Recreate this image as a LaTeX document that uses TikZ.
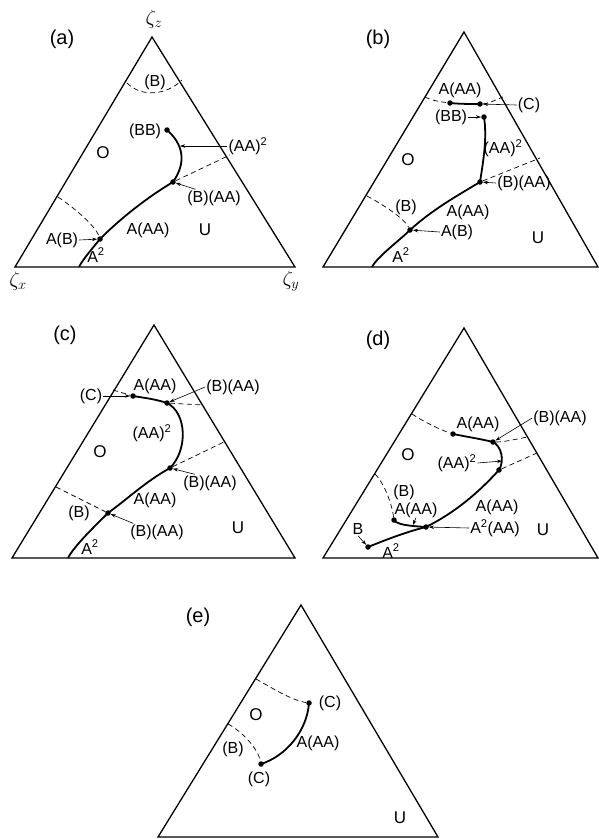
\documentclass[tikz,border=0pt]{standalone}
\usepackage{fontspec}
\setmainfont{Liberation Sans}
\usetikzlibrary{arrows.meta}
\newcommand{\sqr}{\textsuperscript{2}}
\begin{document}
\begin{tikzpicture}[x=1pt,y=-1pt,
  tri/.style={line width=1.3pt, line join=miter},
  phase/.style={line width=1.8pt},
  dsh/.style={line width=0.7pt, dash pattern=on 5pt off 3.5pt},
  dot/.style={circle, fill=black, inner sep=0pt, minimum size=5.5pt},
  lbl/.style={font=\fontsize{16}{18}\selectfont, inner sep=1pt},
  reg/.style={font=\fontsize{17}{19}\selectfont, inner sep=0pt},
  ptag/.style={font=\fontsize{20}{22}\selectfont, inner sep=0pt},
  zet/.style={font=\fontsize{20}{22}\selectfont, inner sep=0pt},
  arr/.style={-{Stealth[length=5pt,width=3.5pt]}, line width=0.6pt},
]
\useasboundingbox (0,0) rectangle (599,839);

% ================= panel (a)
\coordinate (aT) at (152,37); \coordinate (aL) at (15,267); \coordinate (aR) at (295,267);
\draw[tri] (aT) -- (aL) -- (aR) -- cycle;
\node[ptag] (alab) at (62,39) {(a)};
\node[zet] (zz) at (154,19) {$\zeta_z$};
\node[zet] (zx) at (18,281) {$\zeta_x$};
\node[zet] (zy) at (291,281) {$\zeta_y$};
\coordinate (aB1) at (127,83); \coordinate (aB2) at (182,80);
\draw[dsh] (aB1) .. controls +(15,15) and +(-15,15) .. (aB2);
\node[dot] (abb) at (167,130) {};
\node[dot] (abaa) at (173,182) {};
\node[dot] (aab) at (100,239) {};
\coordinate (abot) at (79,267);
\coordinate (aR1) at (230,155);
\coordinate (aL1) at (58,197);
\draw[phase] (abb.center) .. controls +(16,14) and +(14,-20) .. (abaa.center)
  .. controls +(-25,15) and +(22,-22) .. (aab.center)
  .. controls +(-8,10) and +(4,-8) .. (abot);
\draw[dsh] (abaa) -- (aR1);
\draw[dsh] (aL1) .. controls +(15,10) and +(-5,-14) .. (aab);
\node[lbl] (aBt) at (155,82) {(B)};
\node[lbl] (aBB) at (145,131) {(BB)};
\node[lbl] (aAA2) at (248,146) {(AA)\sqr};
\coordinate (aq) at (180,146);
\draw[arr] (aAA2.west) -- (aq);
\node[lbl] (aBAAl) at (214,198) {(B)(AA)};
\draw[arr] (aBAAl.155) -- (abaa);
\node[lbl] (aAAA) at (148,230) {A(AA)};
\node[lbl] (aABl) at (62,240) {A(B)};
\draw[arr] (aABl.east) -- (aab);
\node[lbl] (aA2) at (96,255) {A\sqr};
\node[reg] (aO) at (103,153) {O};
\node[reg] (aU) at (205,230) {U};

% ================= panel (b)
\coordinate (bT) at (464,32); \coordinate (bL) at (323,267); \coordinate (bR) at (598,267);
\draw[tri] (bT) -- (bL) -- (bR) -- cycle;
\node[ptag] (blab) at (378,39) {(b)};
\coordinate (bL1) at (425,97); \coordinate (bR1) at (503,97);
\node[dot] (bd1) at (450,103) {};
\node[dot] (bd2) at (480,104) {};
\draw[dsh] (bL1) .. controls +(8,4) and +(-8,-1) .. (bd1);
\draw[phase] (bd1.center) .. controls +(10,1) and +(-10,0) .. (bd2.center);
\draw[dsh] (bd2) .. controls +(8,0) and +(-8,3) .. (bR1);
\node[lbl] (bC) at (529,105) {(C)};
\draw[arr] (bC.west) -- (bd2);
\node[lbl] (bAAAt) at (460,90) {A(AA)};
\node[dot] (bbb) at (484,117) {};
\node[lbl] (bBB) at (451,117) {(BB)};
\draw[arr] (bBB.east) -- (bbb);
\node[dot] (bbaa) at (480,182) {};
\node[dot] (bab) at (410,230) {};
\coordinate (bbot) at (372,267);
\coordinate (bR2) at (540,158);
\coordinate (bL2) at (367,196);
\draw[phase] (bbb.center) .. controls +(3,20) and +(4,-25) .. (bbaa.center)
  .. controls +(-25,15) and +(22,-20) .. (bab.center)
  .. controls +(-10,10) and +(5,-10) .. (bbot);
\draw[dsh] (bbaa) -- (bR2);
\draw[dsh] (bL2) .. controls +(15,8) and +(-6,-12) .. (bab);
\node[lbl] (bAA2) at (503,148) {(AA)\sqr};
\node[lbl] (bBAAl) at (524,183) {(B)(AA)};
\draw[arr] (bBAAl.west) -- (bbaa);
\node[lbl] (bBl) at (406,207) {(B)};
\node[lbl] (bAAA) at (468,212) {A(AA)};
\node[lbl] (bABl) at (457,232) {A(B)};
\draw[arr] (bABl.west) -- (bab);
\node[lbl] (bA2) at (401,255) {A\sqr};
\node[reg] (bO) at (408,160) {O};
\node[reg] (bU) at (538,238) {U};

% ================= panel (c)
\coordinate (cT) at (154,325); \coordinate (cL) at (12,558); \coordinate (cR) at (295,558);
\draw[tri] (cT) -- (cL) -- (cR) -- cycle;
\node[ptag] (clab) at (65,335) {(c)};
\coordinate (cL1) at (113,390); \coordinate (cR1) at (203,405);
\node[dot] (cc) at (133,396) {};
\node[dot] (cbaa1) at (167,403) {};
\draw[dsh] (cL1) -- (cc);
\draw[phase] (cc.center) .. controls +(12,2) and +(-12,-4) .. (cbaa1.center);
\draw[dsh] (cbaa1) -- (cR1);
\node[lbl] (cCl) at (91,396) {(C)};
\draw[arr] (cCl.east) -- (cc);
\node[lbl] (cAAAt) at (155,386) {A(AA)};
\node[lbl] (cBAAt) at (233,387) {(B)(AA)};
\draw[arr] (cBAAt.west) -- (cbaa1);
\node[dot] (cbaa2) at (170,468) {};
\node[dot] (cbab) at (108,513) {};
\coordinate (cbot) at (68,558);
\coordinate (cR2) at (224,442);
\coordinate (cL2) at (56,487);
\draw[phase] (cbaa1.center) .. controls +(20,10) and +(18,-18) .. (cbaa2.center)
  .. controls +(-25,14) and +(22,-16) .. (cbab.center)
  .. controls +(-12,12) and +(6,-12) .. (cbot);
\draw[dsh] (cbaa2) -- (cR2);
\draw[dsh] (cL2) -- (cbab);
\node[lbl] (cAA2) at (152,433) {(AA)\sqr};
\node[lbl] (cBAAm) at (210,483) {(B)(AA)};
\draw[arr] (cBAAm.150) -- (cbaa2);
\node[lbl] (cAAA) at (155,500) {A(AA)};
\node[lbl] (cBl) at (79,513) {(B)};
\node[lbl] (cBAAb) at (157,532) {(B)(AA)};
\draw[arr] (cBAAb.160) -- (cbab);
\node[lbl] (cA2) at (90,547) {A\sqr};
\node[reg] (cO) at (100,452) {O};
\node[reg] (cU) at (238,528) {U};

% ================= panel (d)
\coordinate (dT) at (464,328); \coordinate (dL) at (323,558); \coordinate (dR) at (598,558);
\draw[tri] (dT) -- (dL) -- (dR) -- cycle;
\node[ptag] (dlab) at (378,340) {(d)};
\coordinate (dL1) at (412,414); \coordinate (dR1) at (528,437);
\node[dot] (dd1) at (453,434) {};
\node[dot] (dd2) at (493,442) {};
\draw[dsh] (dL1) .. controls +(12,8) and +(-12,-4) .. (dd1);
\draw[phase] (dd1.center) .. controls +(15,3) and +(-12,-3) .. (dd2.center);
\draw[dsh] (dd2) .. controls +(12,0) and +(-12,2) .. (dR1);
\node[lbl] (dAAAt) at (478,424) {A(AA)};
\node[lbl] (dBAAt) at (560,418) {(B)(AA)};
\draw[arr] (dBAAt.west) -- (dd2);
\node[dot] (dd3) at (499,470) {};
\node[dot] (dd4) at (426,527) {};
\node[dot] (dd5) at (368,547) {};
\node[dot] (dd6) at (394,520) {};
\coordinate (dR2) at (537,453);
\coordinate (dL2) at (375,474);
\draw[phase] (dd2.center) .. controls +(8,4) and +(6,-10) .. (dd3.center)
  .. controls +(-20,22) and +(30,-15) .. (dd4.center)
  .. controls +(-20,5) and +(20,-8) .. (dd5.center);
\draw[phase] (dd6.center) .. controls +(3,5) and +(-15,-1) .. (dd4.center);
\draw[dsh] (dd3) -- (dR2);
\draw[dsh] (dL2) .. controls +(10,10) and +(-2,-15) .. (dd6);
\node[lbl] (dAA2) at (457,463) {(AA)\sqr};
\coordinate (dq) at (502,461);
\draw[arr] (dAA2.east) -- (dq);
\node[lbl, inner sep=0pt] (dBl) at (404,492) {(B)};
\node[lbl, inner sep=0pt] (dAAAs) at (416,510) {A(AA)};
\coordinate (dq2) at (413,525);
\draw[arr] (dAAAs.south) -- (dq2);
\node[lbl] (dAAA) at (497,507) {A(AA)};
\node[lbl] (dA2AA) at (495,528) {A\sqr(AA)};
\draw[arr] (dA2AA.west) -- (dd4);
\node[lbl] (dBs) at (358,529) {B};
\draw[arr] (dBs.south) -- (dd5);
\node[lbl] (dA2) at (391,551) {A\sqr};
\node[reg] (dO) at (408,455) {O};
\node[reg] (dU) at (543,530) {U};

% ================= panel (e)
\coordinate (eT) at (301,605); \coordinate (eL) at (158,837); \coordinate (eR) at (438,837);
\draw[tri] (eT) -- (eL) -- (eR) -- cycle;
\node[ptag] (elab) at (198,617) {(e)};
\coordinate (eL1) at (256,679); \coordinate (eL2) at (228,724);
\node[dot] (de1) at (309,703) {};
\node[dot] (de2) at (261,764) {};
\draw[dsh] (eL1) .. controls +(18,10) and +(-18,-3) .. (de1);
\draw[phase] (de1.center) .. controls +(-2,28) and +(25,-8) .. (de2.center);
\draw[dsh] (eL2) .. controls +(15,8) and +(-3,-15) .. (de2);
\node[lbl] (eC1) at (330,703) {(C)};
\node[lbl] (eAAA) at (318,743) {A(AA)};
\node[lbl] (eBl) at (233,749) {(B)};
\node[lbl] (eC2) at (259,779) {(C)};
\node[reg] (eO) at (256,715) {O};
\node[reg] (eU) at (400,818) {U};
\end{tikzpicture}
\end{document}
